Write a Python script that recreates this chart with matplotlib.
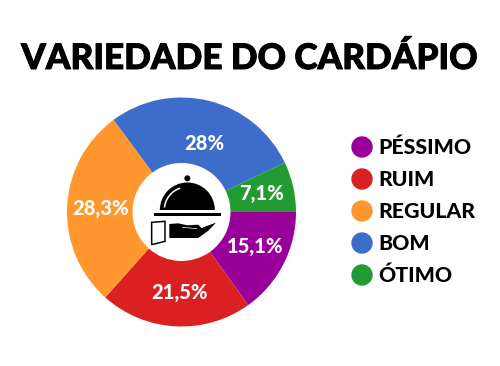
#!/usr/bin/env python3
import numpy as np
import matplotlib
matplotlib.use('Agg')
import matplotlib.pyplot as plt
import matplotlib.patheffects as pe
from matplotlib.patches import Circle, Polygon, Rectangle, Wedge

categories = ['PÉSSIMO', 'RUIM', 'REGULAR', 'BOM', 'ÓTIMO']
values = [15.1, 21.5, 28.3, 28.0, 7.1]
value_labels = ['15,1%', '21,5%', '28,3%', '28%', '7,1%']
colors = ['#990099', '#da2020', '#ff962e', '#3d6dcb', '#249a33']
title = 'VARIEDADE DO CARDÁPIO'

W, H = 500, 366
plt.rcParams['font.family'] = ['Lato', 'DejaVu Sans']

fig = plt.figure(figsize=(W / 100, H / 100), dpi=100, facecolor='white')

# pie axes, pixel box around the donut
cx, cy, r = 181.5, 212, 114.5
ax = fig.add_axes([(cx - r) / W, 1 - (cy + r) / H, 2 * r / W, 2 * r / H])
wedges, _ = ax.pie(values, colors=colors, startangle=0, counterclock=False,
                   radius=1, wedgeprops=dict(width=1 - 49 / 114.5))
ax.set_xlim(-1, 1)
ax.set_ylim(-1, 1)

# label nudges in axes units, the reference is not quite on the mid angle
label_r = [0.72, 0.70, 0.71, 0.63, 0.72]
label_dx = [0.0, 0.02, 0.0, 0.05, 0.0]
label_dy = [0.03, 0.0, 0.0, -0.01, 0.0]
for w, lab, lr, dx, dy in zip(wedges, value_labels, label_r, label_dx, label_dy):
    a = np.deg2rad((w.theta1 + w.theta2) / 2)
    ax.text(lr * np.cos(a) + dx, lr * np.sin(a) + dy, lab, color='white', fontsize=14.5,
            fontweight='black', ha='center', va='center')

# overlay in pixel coordinates for title, legend and icon
ov = fig.add_axes([0, 0, 1, 1])
ov.set_xlim(0, W)
ov.set_ylim(H, 0)
ov.axis('off')
ov.patch.set_alpha(0)

ov.text(249, 59, title, fontsize=25.3, fontweight='black', ha='center', va='center',
        color='black', path_effects=[pe.withStroke(linewidth=0.7, foreground='black')])

for i, (name, col) in enumerate(zip(categories, colors)):
    y = 147 + i * 32
    ov.add_patch(Circle((362, y), 10.7, color=col, lw=0))
    ov.text(378, y + 0.5, name, fontsize=15.3, fontweight='black', ha='left',
            va='center', color='black')

# cloche icon
z = lambda x, y: (130 + x / 3, 150 + y / 3)
ov.add_patch(Circle(z(172, 85), 3, color='black', lw=0))
ov.add_patch(Wedge(z(172, 180), 27.5, 180, 360, color='black', lw=0))
ov.add_patch(Rectangle(z(72, 190), 67, 2.8, color='black', lw=0))
theta = np.deg2rad(np.linspace(110, 172, 20))
ov.plot(z(172, 180)[0] + 23 * np.cos(theta), z(172, 180)[1] - 23 * np.sin(theta),
        color='white', lw=1.1)
# hand
hand = [(118, 222), (145, 220), (172, 226), (205, 224), (214, 234), (258, 218),
        (235, 242), (205, 264), (150, 264), (118, 264)]
ov.add_patch(Polygon([z(*p) for p in hand], closed=True, color='black', lw=0))
ov.plot(*zip(z(158, 232), z(200, 236)), color='white', lw=0.5)
cuff = [(65, 217), (105, 214), (105, 274), (65, 284)]
ov.add_patch(Polygon([z(*p) for p in cuff], closed=True, fc='white', ec='black', lw=1.1))

fig.savefig('out.png', dpi=100, facecolor='white')
